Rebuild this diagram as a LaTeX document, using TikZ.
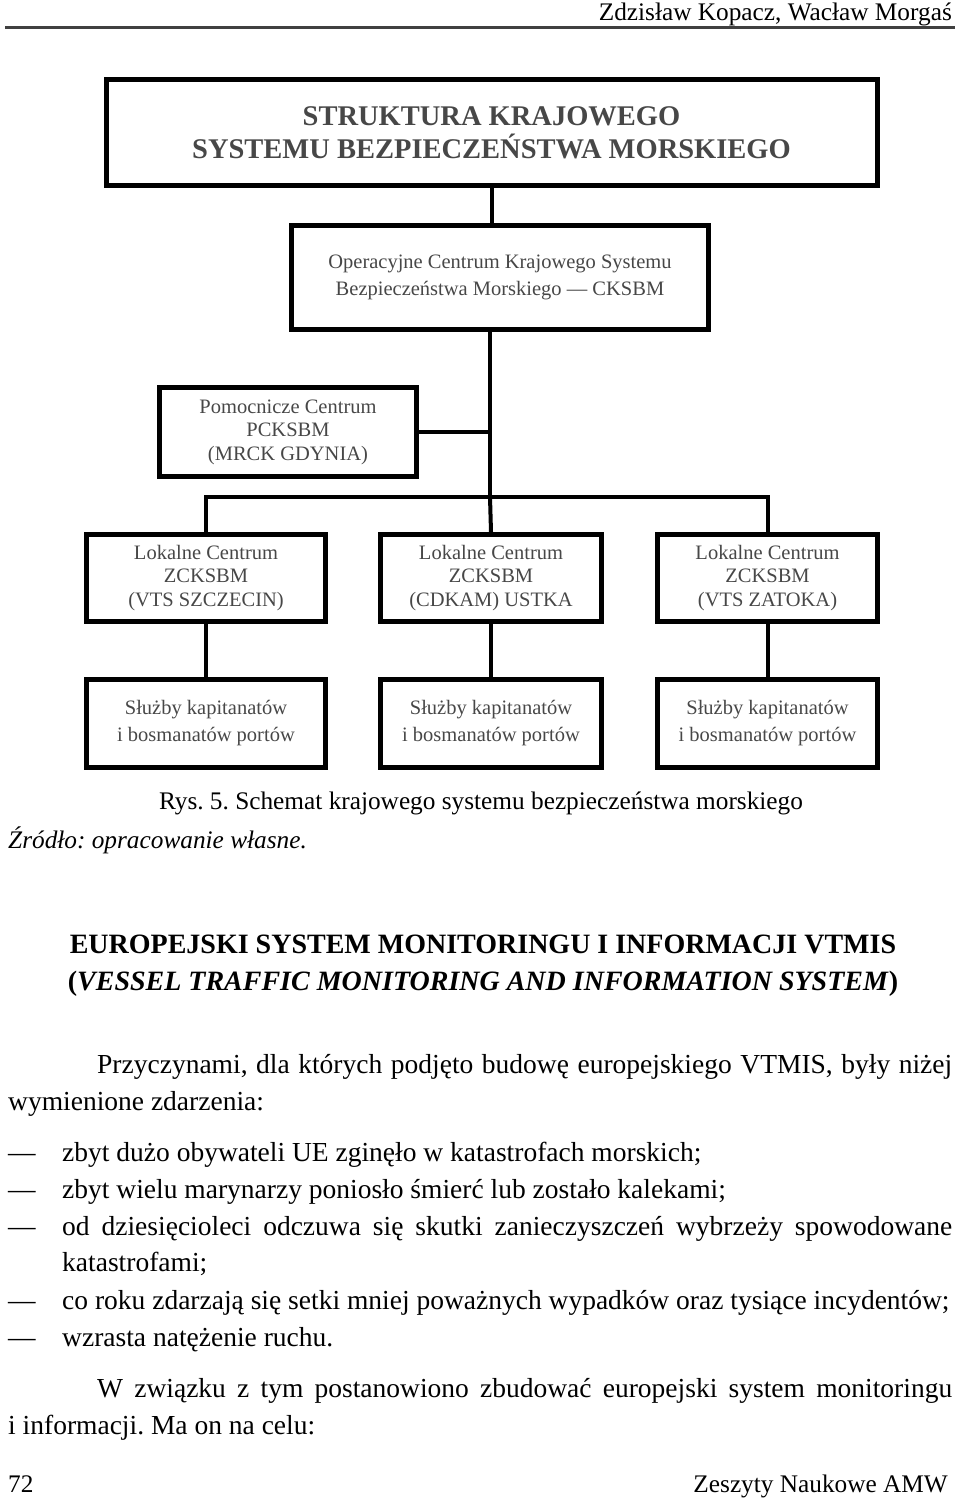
\documentclass[tikz,border=0pt]{standalone}
\usepackage{fontspec}
\setmainfont{Liberation Serif}
\frenchspacing
\newcommand{\diagfont}{\fontsize{20.5}{23.5}\selectfont}
\newcommand{\pagefont}{\fontsize{25.3}{37}\selectfont}
\newcommand{\bodyfont}{\fontsize{27.5}{37}\selectfont}
\tikzset{
    box/.style = {draw, line width=5pt, inner sep=0pt, align=center,
                  text=black!72, font=\diagfont},
    link/.style = {line width=4pt},
    line/.style = {inner sep=0pt, anchor=base west, font=\pagefont},
    body/.style = {line, font=\bodyfont}
}
\begin{document}
\begin{tikzpicture}[x=1pt, y=-1pt]
    \useasboundingbox (0,0) rectangle (960,1498);
    % page head
    \node[line, anchor=base east] (head) at (952,21) {Zdzisław Kopacz, Wacław Morgaś};
    \draw[line width=3pt, black!75] (5,28) -- (955,28);
    % diagram
    \node[box, minimum width=771, minimum height=106,
          font=\bfseries\fontsize{28.5}{33}\selectfont] (struct) at (491.5,132.5)
        {STRUKTURA KRAJOWEGO\\SYSTEMU BEZPIECZEŃSTWA MORSKIEGO};
    \node[box, minimum width=417, minimum height=104,
          font=\fontsize{20.5}{27}\selectfont] (ops) at (500,277.5)
        {Operacyjne Centrum Krajowego Systemu\\Bezpieczeństwa Morskiego — CKSBM};
    \node[box, minimum width=257, minimum height=89] (aux) at (288,432)
        {Pomocnicze Centrum\\PCKSBM\\(MRCK GDYNIA)};
    \node[box, minimum width=239, minimum height=87] (loc1) at (206,578)
        {Lokalne Centrum\\ZCKSBM\\(VTS SZCZECIN)};
    \node[box, minimum width=221, minimum height=87] (loc2) at (491,578)
        {Lokalne Centrum\\ZCKSBM\\(CDKAM) USTKA};
    \node[box, minimum width=220, minimum height=87] (loc3) at (767.5,578)
        {Lokalne Centrum\\ZCKSBM\\(VTS ZATOKA)};
    \node[box, minimum width=239, minimum height=88,
          font=\fontsize{20.5}{27}\selectfont] (port1) at (206,723.5)
        {Służby kapitanatów\\i bosmanatów portów};
    \node[box, minimum width=221, minimum height=88,
          font=\fontsize{20.5}{27}\selectfont] (port2) at (491,723.5)
        {Służby kapitanatów\\i bosmanatów portów};
    \node[box, minimum width=220, minimum height=88,
          font=\fontsize{20.5}{27}\selectfont] (port3) at (767.5,723.5)
        {Służby kapitanatów\\i bosmanatów portów};
    \coordinate (hub) at (490,497);
    \draw[link] (struct.south) -- (struct.south |- ops.north);
    \draw[link] (ops.south -| hub) -- (hub);
    \draw[link] (aux.east) -- (aux.east -| hub);
    \draw[link] (loc1.north) |- (hub) -| (loc3.north);
    \draw[link] (hub) -- (loc2.north);
    \draw[link] (loc1) -- (port1);
    \draw[link] (loc2) -- (port2);
    \draw[link] (loc3) -- (port3);
    % caption
    \node[line, anchor=base] (caption) at (481,809)
        {Rys. 5. Schemat krajowego systemu bezpieczeństwa morskiego};
    \node[line] (source) at (8,848) {\itshape Źródło: opracowanie własne.};
    % text below
    \node[line, anchor=base, font=\bfseries\fontsize{28}{37}\selectfont] (title1) at (483,953)
        {EUROPEJSKI SYSTEM MONITORINGU I INFORMACJI VTMIS};
    \node[line, anchor=base, font=\bfseries\fontsize{28}{37}\selectfont] (title2) at (483,990)
        {(\textit{VESSEL TRAFFIC MONITORING AND INFORMATION SYSTEM})};
    \node[body] (par1a) at (97,1073)
        {\makebox[855pt][s]{Przyczynami, dla których podjęto budowę europejskiego VTMIS, były niżej}};
    \node[body] (par1b) at (8,1110) {wymienione zdarzenia:};
    \foreach \y in {1161,1198,1235,1309,1346}
        \node[body] (dash\y) at (8,\y) {—};
    \node[body] (item1) at (62,1161) {zbyt dużo obywateli UE zginęło w katastrofach morskich;};
    \node[body] (item2) at (62,1198) {zbyt wielu marynarzy poniosło śmierć lub zostało kalekami;};
    \node[body] (item3a) at (62,1235)
        {\makebox[890pt][s]{od dziesięcioleci odczuwa się skutki zanieczyszczeń wybrzeży spowodowane}};
    \node[body] (item3b) at (62,1271) {katastrofami;};
    \node[body] (item4) at (62,1309) {co roku zdarzają się setki mniej poważnych wypadków oraz tysiące incydentów;};
    \node[body] (item5) at (62,1346) {wzrasta natężenie ruchu.};
    \node[body] (par2a) at (97,1397)
        {\makebox[855pt][s]{W związku z tym postanowiono zbudować europejski system monitoringu}};
    \node[body] (par2b) at (8,1434) {i informacji. Ma on na celu:};
    % page foot
    \node[line] (page) at (8,1492) {72};
    \node[line, anchor=base east] (journal) at (948,1492) {Zeszyty Naukowe AMW};
\end{tikzpicture}
\end{document}
